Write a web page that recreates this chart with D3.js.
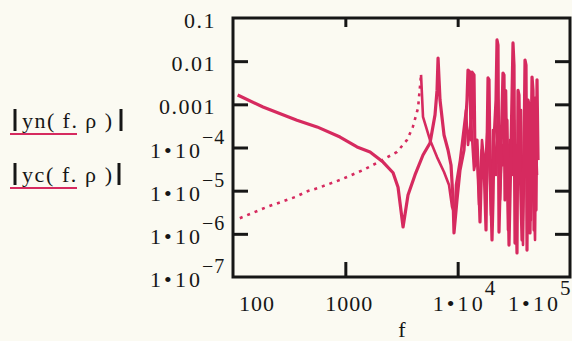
<!DOCTYPE html>
<html>
<head>
<meta charset="utf-8">
<script src="https://cdnjs.cloudflare.com/ajax/libs/d3/7.8.5/d3.min.js"></script>
<style>
  html, body { margin: 0; padding: 0; background: #fbfaf2; }
  svg { display: block; }
  text { font-family: "Liberation Serif", "Times New Roman", serif; fill: #161616; }
</style>
</head>
<body>
<svg id="viz" width="572" height="341"></svg>
<script>
// values
var ynF = [110, 185, 371, 560, 897, 1271, 1660, 2167, 2660, 2946, 3265,
  3614, 4170, 4915, 5675, 6285, 6550, 6690, 6965, 7560, 8205, 8725, 9100, 9275,
  9865, 10490, 11390, 12110, 12360, 12880, 13140, 13420, 13980, 14270, 14870, 15490, 15810,
  16470, 17160, 17880, 18250, 18630, 19010, 19410, 20220, 20640, 21060, 21940, 22400, 22860,
  23330, 24310, 25320, 25850, 26380, 27490, 28640, 29830, 31090, 31730, 32390, 33060, 33740,
  34440, 35160, 35890, 37390, 38960, 39760, 40590, 41430, 42290, 43170, 44060, 45910, 46860,
  47830, 48820, 49840, 50870, 51920];
var ynMag = [1.64e-3, 8.7e-4, 4.3e-4, 3.0e-4, 1.75e-4, 1.03e-4, 7.9e-5, 4.6e-5, 2.6e-5, 1.2e-5, 1.44e-6,
  7.9e-6, 2.31e-5, 6.7e-5, 1.27e-4, 5.7e-4, 2.1e-3, 1.18e-2, 1.26e-3, 1.95e-4, 8.75e-5, 3.94e-5, 6.1e-6, 1.05e-6,
  6.1e-6, 3.0e-5, 8.75e-5, 1.26e-3, 6.2e-3, 5.6e-3, 1.49e-4, 5.6e-3, 4.8e-3, 5.1e-5, 1.49e-4, 1.04e-5, 1.88e-6,
  8.75e-5, 3.9e-5, 1.23e-6, 8.75e-5, 4.1e-3, 3.7e-3, 3.9e-5, 7.2e-7, 6.1e-6, 1.49e-4, 1.26e-3, 3.1e-2, 2.37e-2,
  1.1e-6, 8.75e-5, 5.3e-3, 4.8e-3, 6.1e-6, 4.3e-4, 5.5e-7, 8.75e-5, 2.64e-2, 8.15e-3, 6.1e-7, 6.1e-6, 3.6e-7,
  2.1e-3, 1.64e-3, 5.1e-5, 7.2e-7, 8.75e-5, 1.06e-2, 8.15e-3, 4.2e-7, 1.26e-3, 9.65e-4, 1.05e-6, 4.3e-3, 2.1e-3,
  1.23e-6, 1.4e-3, 3.57e-6, 3.7e-3, 5.1e-5];

var ycF = [115, 201, 356, 465, 571, 897, 1437, 1915, 2886, 3545, 3990, 4440, 4720,
  4915, 5675, 6550, 7560, 8375, 8910, 9470,
  9665, 10490, 11160, 11860, 12360, 13140, 13980, 14870, 15490, 16470, 17520, 18630,
  19810, 20640, 21940, 22860, 23820, 24810, 25320, 25850, 26930, 28060, 29230, 30450,
  31730, 33060, 34440, 35160, 36630, 38160, 38960, 40590, 41430, 43170, 44980, 45910,
  46860, 48820, 49840, 50870];
var ycMag = [2.3e-6, 4.2e-6, 7.1e-6, 9.8e-6, 1.15e-5, 1.77e-5, 3.0e-5, 4.4e-5, 7.9e-5, 1.5e-4, 3.0e-4, 8.2e-4, 4.8e-3,
  5.1e-4, 1.49e-4, 6.0e-5, 2.7e-5, 1.35e-5, 4.2e-6, 2.7e-6,
  1.35e-5, 5.1e-5, 1.95e-4, 7.4e-4, 1.14e-4, 4.3e-4, 3.0e-5, 6.7e-5, 4.7e-6, 1.49e-4, 3.0e-5, 4.3e-4,
  2.7e-6, 2.55e-4, 2.31e-5, 1.26e-3, 6.1e-6, 1.14e-4, 3.9e-5, 1.49e-4, 2.1e-3, 1.23e-6, 1.49e-4, 2.31e-5,
  4.3e-4, 7.2e-7, 8.75e-5, 3.9e-5, 7.4e-4, 5.5e-7, 3.0e-5, 1.49e-4, 3.9e-5, 1.49e-4, 2.09e-6, 8.75e-5,
  3.0e-5, 7.2e-7, 1.14e-4, 2.31e-5];

// yc is drawn dotted up to its first peak, solid after it
var ycDotEnd = 4720;

var fTicks = [100, 1000, 1e4, 1e5];
var yTicks = [0.1, 0.01, 0.001, 1e-4, 1e-5, 1e-6, 1e-7];
var legendNames = ["yn( f. \u03c1 )", "yc( f. \u03c1 )"];

var red = "#d62a5f";
var ink = "#161616";

var svg = d3.select("#viz");
// note: "top" is taken by window.top, so the box edges get their own names
var boxL = 233, boxR = 570, boxT = 18, boxB = 277;

var x = d3.scaleLog().domain([100, 1e5]).range([boxL, boxR]);
var y = d3.scaleLog().domain([1e-7, 0.1]).range([boxB, boxT]);

// tick marks point into the box (Mathcad style)
var inner = yTicks.slice(1, -1);
var inX = fTicks.slice(1, -1);
svg.append("g").attr("transform", "translate(" + boxL + ",0)")
  .call(d3.axisLeft(y).tickValues(inner).tickSize(-15).tickFormat(""));
svg.append("g").attr("transform", "translate(" + boxR + ",0)")
  .call(d3.axisRight(y).tickValues(inner).tickSize(-15).tickFormat(""));
svg.append("g").attr("transform", "translate(0," + boxB + ")")
  .call(d3.axisBottom(x).tickValues(inX).tickSize(-15).tickFormat(""));
svg.append("g").attr("transform", "translate(0," + boxT + ")")
  .call(d3.axisTop(x).tickValues(inX).tickSize(-9).tickFormat(""));
svg.selectAll(".domain").remove();
svg.selectAll(".tick line").attr("stroke", ink).attr("stroke-width", 3);

svg.append("rect")
  .attr("x", boxL).attr("y", boxT)
  .attr("width", boxR - boxL).attr("height", boxB - boxT)
  .attr("fill", "none").attr("stroke", ink).attr("stroke-width", 3);

// traces
var line = d3.line()
  .x(function(d) { return x(d[0]); })
  .y(function(d) { return y(d[1]); });

var yc = d3.zip(ycF, ycMag);
svg.append("path")
  .datum(yc.filter(function(d) { return d[0] <= ycDotEnd; }))
  .attr("d", line)
  .attr("fill", "none").attr("stroke", red)
  .attr("stroke-width", 2.6).attr("stroke-dasharray", "3,5");
svg.append("path")
  .datum(yc.filter(function(d) { return d[0] >= ycDotEnd; }))
  .attr("d", line)
  .attr("fill", "none").attr("stroke", red)
  .attr("stroke-width", 2.6).attr("stroke-linejoin", "round");

svg.append("path")
  .datum(d3.zip(ynF, ynMag))
  .attr("d", line)
  .attr("fill", "none").attr("stroke", red)
  .attr("stroke-width", 3.2).attr("stroke-linejoin", "round");

// tick labels
function expOf(v) { return Math.round(Math.log10(v)); }

yTicks.forEach(function(v) {
  var ty = y(v);
  var e = expOf(v);
  if (e >= -3) {
    svg.append("text").attr("x", 216).attr("y", ty + 10)
      .attr("text-anchor", "end").attr("font-size", 22)
      .attr("letter-spacing", 1.5).text(String(v));
  } else {
    svg.append("text").attr("x", 150).attr("y", ty + 10)
      .attr("font-size", 22).attr("textLength", 50).attr("lengthAdjust", "spacing")
      .text("1\u202210");
    svg.append("text").attr("x", 202).attr("y", ty - 4)
      .attr("font-size", 20).attr("letter-spacing", 1)
      .text("\u2212" + (-e));
  }
});

fTicks.forEach(function(v, i) {
  var tx = x(v);
  var e = expOf(v);
  var mx = tx;
  if (i === 0) mx = tx + 24;
  else if (i === fTicks.length - 1) mx = tx - 37;
  else if (e < 4) mx = tx + 4;
  if (e < 4) {
    svg.append("text").attr("x", mx).attr("y", 311)
      .attr("text-anchor", "middle").attr("font-size", 22)
      .attr("letter-spacing", 1).text(String(v));
  } else {
    svg.append("text").attr("x", mx - 25).attr("y", 311)
      .attr("font-size", 22).attr("textLength", 50).attr("lengthAdjust", "spacing")
      .text("1\u202210");
    svg.append("text").attr("x", mx + 27).attr("y", 295)
      .attr("font-size", 21).text(String(e));
  }
});

svg.append("text").attr("x", 402).attr("y", 337)
  .attr("text-anchor", "middle").attr("font-size", 22).text("f");

// legend: |expr| with a sample of the trace under it
var legendY = [128, 182];
legendNames.forEach(function(name, i) {
  var by = legendY[i];
  svg.append("text").attr("x", 22).attr("y", by)
    .attr("font-size", 22).attr("textLength", 90).attr("lengthAdjust", "spacing")
    .text(name);
  svg.append("line").attr("x1", 15).attr("x2", 15).attr("y1", by - 19).attr("y2", by + 3)
    .attr("stroke", ink).attr("stroke-width", 3);
  svg.append("line").attr("x1", 121 - i * 2).attr("x2", 121 - i * 2).attr("y1", by - 19).attr("y2", by + 3)
    .attr("stroke", ink).attr("stroke-width", 3);
  svg.append("line").attr("x1", 10).attr("x2", 77).attr("y1", by + 6).attr("y2", by + 6)
    .attr("stroke", red).attr("stroke-width", 2);
});
</script>
</body>
</html>
